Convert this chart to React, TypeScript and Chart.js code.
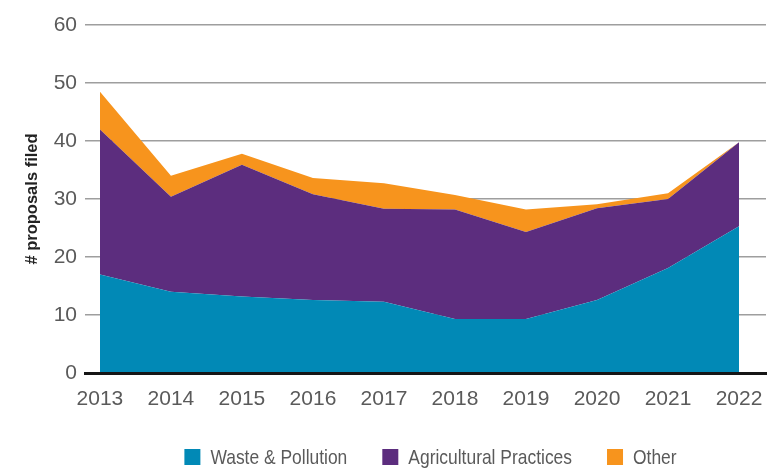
import React, { useEffect, useRef } from "react";
import { Chart, registerables } from "chart.js";

Chart.register(...registerables);

const years = [2013, 2014, 2015, 2016, 2017, 2018, 2019, 2020, 2021, 2022];
const wastePollution = [17.0, 14.0, 13.2, 12.6, 12.3, 9.3, 9.3, 12.6, 18.1, 25.3];
const agriculturalPractices = [25.0, 16.4, 22.7, 18.2, 16.0, 18.9, 15.0, 15.8, 11.9, 14.5];
const other = [6.5, 3.6, 1.9, 2.8, 4.4, 2.5, 3.9, 0.7, 1.0, 0.0];
const seriesLabels = ["Waste & Pollution", "Agricultural Practices", "Other"];
const seriesColors = ["#0189B6", "#5C2D7E", "#F7941D"];
const yTicks = [0, 10, 20, 30, 40, 50, 60];
const yTitle = "# proposals filed";

const X_MIN = 2012.79;
const X_MAX = 2022.38;

const TICK_FONT = '"Liberation Sans", Arial, sans-serif';
const LEGEND_FONT = '"Liberation Sans Narrow", "Arial Narrow", "Liberation Sans", sans-serif';

const legendPlugin = {
  id: "customLegend",
  afterDraw(chart: any) {
    const ctx = chart.ctx;
    const area = chart.chartArea;
    const boxSize = 16;
    const boxGap = 10;
    const itemGap = 35;
    const squeeze = 0.83;
    ctx.save();
    ctx.font = `21px ${LEGEND_FONT}`;
    const items = chart.data.datasets.map((ds: any) => ({
      label: ds.label,
      color: ds.backgroundColor,
      w: ctx.measureText(ds.label).width * squeeze,
    }));
    const total =
      items.reduce((s: number, it: any) => s + boxSize + boxGap + it.w, 0) +
      itemGap * (items.length - 1);
    let x = (area.left + area.right) / 2 + 5 - total / 2;
    const cy = chart.height - 12;
    ctx.textBaseline = "middle";
    ctx.textAlign = "left";
    for (const it of items) {
      ctx.fillStyle = it.color;
      ctx.fillRect(x, cy - boxSize / 2, boxSize, boxSize);
      x += boxSize + boxGap;
      ctx.save();
      ctx.translate(x, cy + 1);
      ctx.scale(squeeze, 1);
      ctx.fillStyle = "#5a5a5a";
      ctx.fillText(it.label, 0, 0);
      ctx.restore();
      x += it.w + itemGap;
    }
    ctx.restore();
  },
};

export default function App() {
  const canvasRef = useRef<HTMLCanvasElement | null>(null);

  useEffect(() => {
    if (!canvasRef.current) return;
    const series = [wastePollution, agriculturalPractices, other];
    const chart = new Chart(canvasRef.current, {
      type: "line",
      data: {
        datasets: series.map((vals, i) => ({
          label: seriesLabels[i],
          data: years.map((yr, j) => ({ x: yr, y: vals[j] })),
          backgroundColor: seriesColors[i],
          borderColor: seriesColors[i],
          borderWidth: 0,
          pointRadius: 0,
          pointHoverRadius: 0,
          tension: 0,
          fill: i === 0 ? "origin" : "-1",
        })),
      },
      plugins: [legendPlugin],
      options: {
        responsive: false,
        animation: false,
        events: [],
        layout: { padding: { left: 0, right: 12, top: 25, bottom: 56 } },
        plugins: {
          legend: { display: false },
          tooltip: { enabled: false },
        },
        scales: {
          x: {
            type: "linear",
            min: X_MIN,
            max: X_MAX,
            grid: { display: false },
            border: { display: true, color: "#161616", width: 3, z: 1 },
            afterBuildTicks: (scale: any) => {
              scale.ticks = years.map((v) => ({ value: v }));
            },
            ticks: {
              autoSkip: false,
              maxRotation: 0,
              padding: 6,
              color: "#5a5a5a",
              font: { family: TICK_FONT, size: 21 },
              callback: (v: any) => String(v),
            },
            afterFit: (scale: any) => {
              scale.height = 40;
            },
          },
          y: {
            stacked: true,
            min: yTicks[0],
            max: yTicks[yTicks.length - 1],
            afterBuildTicks: (scale: any) => {
              scale.ticks = yTicks.map((v) => ({ value: v }));
            },
            grid: {
              drawTicks: false,
              color: "#9e9e9e",
              lineWidth: 1.5,
            },
            border: { display: false },
            ticks: {
              padding: 8,
              color: "#5a5a5a",
              font: { family: TICK_FONT, size: 21 },
            },
            title: {
              display: true,
              text: yTitle,
              color: "#222222",
              font: { family: TICK_FONT, size: 16.5, weight: "bold" },
              padding: { top: 23, bottom: 0 },
            },
            afterFit: (scale: any) => {
              scale.width = 85;
            },
          },
        },
      },
    });
    return () => chart.destroy();
  }, []);

  return (
    <div
      style={{
        position: "fixed",
        left: 0,
        top: 0,
        width: 778,
        height: 469,
        background: "#ffffff",
      }}
    >
      <canvas ref={canvasRef} width={778} height={469} style={{ display: "block" }} />
    </div>
  );
}
